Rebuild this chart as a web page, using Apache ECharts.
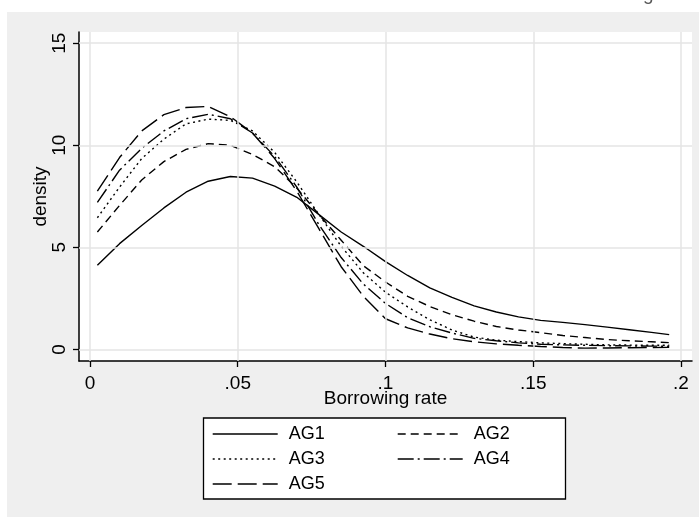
<!DOCTYPE html>
<html><head><meta charset="utf-8">
<script src="https://cdn.jsdelivr.net/npm/echarts@6/dist/echarts.min.js"></script>
<style>html,body{margin:0;padding:0;background:#fff}#c{width:699px;height:517px}</style>
</head><body><div id="c"></div>
<script>
// Borrowing rate grid (x values of the density estimates)
const rate = [0.0025, 0.01, 0.0175, 0.025, 0.0325, 0.04, 0.0475, 0.055, 0.0625, 0.07, 0.0775, 0.085, 0.0925, 0.1, 0.1075, 0.115, 0.1225, 0.13, 0.1375, 0.145, 0.1525, 0.16, 0.1675, 0.175, 0.1825, 0.19, 0.196];
const ag1 = [4.12, 5.18, 6.07, 6.93, 7.7, 8.24, 8.47, 8.39, 8.0, 7.45, 6.6, 5.75, 5.05, 4.3, 3.62, 3.01, 2.55, 2.13, 1.83, 1.59, 1.42, 1.32, 1.21, 1.09, 0.96, 0.83, 0.72];
const ag2 = [5.75, 7.05, 8.3, 9.2, 9.8, 10.08, 10.0, 9.55, 8.95, 7.9, 6.6, 5.35, 4.1, 3.3, 2.6, 2.1, 1.7, 1.38, 1.12, 0.95, 0.82, 0.68, 0.58, 0.48, 0.42, 0.37, 0.33];
const ag3 = [6.45, 7.95, 9.35, 10.3, 11.05, 11.28, 11.22, 10.7, 9.65, 8.2, 6.6, 5.05, 3.75, 2.8, 2.08, 1.45, 0.95, 0.6, 0.45, 0.38, 0.32, 0.28, 0.25, 0.22, 0.21, 0.2, 0.2];
const ag4 = [7.2, 8.78, 9.85, 10.7, 11.3, 11.52, 11.3, 10.6, 9.45, 7.95, 6.1, 4.5, 3.2, 2.25, 1.55, 1.11, 0.8, 0.54, 0.42, 0.32, 0.25, 0.22, 0.2, 0.18, 0.17, 0.16, 0.15];
const ag5 = [7.75, 9.4, 10.7, 11.5, 11.85, 11.9, 11.4, 10.6, 9.35, 7.75, 5.9, 4.05, 2.6, 1.5, 1.05, 0.75, 0.52, 0.37, 0.27, 0.2, 0.14, 0.09, 0.06, 0.07, 0.08, 0.09, 0.1];
const seriesNames = ['AG1', 'AG2', 'AG3', 'AG4', 'AG5'];
const xTickValues = [0, 0.05, 0.1, 0.15, 0.2];
const xTickLabels = ['0', '.05', '.1', '.15', '.2'];
const yTickValues = [0, 5, 10, 15];
const yTickLabels = ['0', '5', '10', '15'];

const FONT = "'Liberation Sans', Arial, sans-serif";
const allY = [ag1, ag2, ag3, ag4, ag5];
const dashes = ['solid', [8, 5], [2, 3.5], [16, 4, 2, 4], [19, 6]];

const chart = echarts.init(document.getElementById('c'), null, {renderer: 'canvas'});
const curveSeries = seriesNames.map((n, i) => ({
  type: 'line', name: n, z: 3,
  data: rate.map((x, j) => [x, allY[i][j]]),
  symbol: 'none', smooth: false, silent: true,
  lineStyle: {color: '#000', width: 1.4, type: dashes[i]},
  itemStyle: {color: '#000'}
}));
const gridSeries = {
  type: 'line', name: 'gridlines', data: [], z: 1, silent: true,
  markLine: {
    symbol: 'none', silent: true, animation: false,
    label: {show: false},
    lineStyle: {color: '#e4e4e4', width: 1.5, type: 'solid'},
    data: xTickValues.map(v => ({xAxis: v})).concat(yTickValues.map(v => ({yAxis: v})))
  }
};
const legendCommon = {
  orient: 'vertical', itemWidth: 65, itemHeight: 14, itemGap: 7, padding: 0, selectedMode: false,
  textStyle: {fontFamily: FONT, fontSize: 18, color: '#000', lineHeight: 17, padding: [0, 0, 0, 6]},
  lineStyle: {width: 1.4},
  itemStyle: {color: 'rgba(0,0,0,0)', borderColor: 'rgba(0,0,0,0)', borderWidth: 0}
};
chart.setOption({
  animation: false,
  backgroundColor: '#fff',
  graphic: [
    {type: 'rect', z: -10, shape: {x: 7, y: 12, width: 692, height: 505}, style: {fill: '#efefef'}},
    {type: 'rect', z: 5, shape: {x: 203.5, y: 418, width: 362, height: 81}, style: {fill: '#fff', stroke: '#000', lineWidth: 1.3}},
    {type: 'text', z: 5, left: 643, top: -15, style: {text: 'g', font: "19px 'Liberation Sans', Arial", fill: '#555'}}
  ],
  grid: {left: 79, right: 7, top: 32, bottom: 156, show: true, backgroundColor: '#fff', borderWidth: 0},
  xAxis: {
    type: 'value', min: -0.00372, max: 0.20372,
    name: 'Borrowing rate', nameLocation: 'middle', nameGap: 28, nameMoveOverlap: false,
    nameTextStyle: {fontFamily: FONT, fontSize: 19, color: '#000'},
    axisLine: {show: true, onZero: false, lineStyle: {color: '#000', width: 1.5}},
    axisTick: {show: true, length: 6, customValues: xTickValues, lineStyle: {color: '#000', width: 1.3}},
    axisLabel: {customValues: xTickValues, margin: 13, fontFamily: FONT, fontSize: 19, color: '#000',
      formatter: v => xTickLabels[xTickValues.findIndex(t => Math.abs(t - v) < 1e-9)]},
    splitLine: {show: false}
  },
  yAxis: {
    type: 'value', min: -0.57, max: 15.55,
    name: 'density', nameLocation: 'middle', nameGap: 29, nameRotate: 90, nameMoveOverlap: false,
    nameTextStyle: {fontFamily: FONT, fontSize: 19, color: '#000'},
    axisLine: {show: true, onZero: false, lineStyle: {color: '#000', width: 1.5}},
    axisTick: {show: true, length: 6, customValues: yTickValues, lineStyle: {color: '#000', width: 1.3}},
    axisLabel: {customValues: yTickValues, rotate: 90, margin: 10, fontFamily: FONT, fontSize: 19, color: '#000',
      formatter: v => yTickLabels[yTickValues.findIndex(t => Math.abs(t - v) < 1e-9)]},
    splitLine: {show: false}
  },
  legend: [
    Object.assign({data: ['AG1', 'AG3', 'AG5'], left: 212, top: 425, z: 6}, legendCommon),
    Object.assign({data: ['AG2', 'AG4'], left: 397, top: 425, z: 6}, legendCommon)
  ],
  series: [gridSeries].concat(curveSeries)
});
</script>
</body></html>
